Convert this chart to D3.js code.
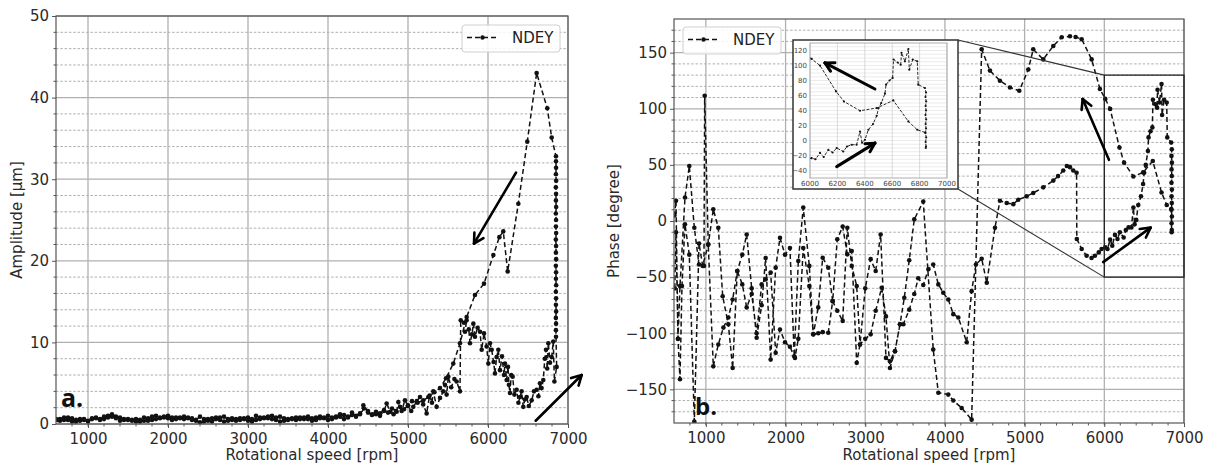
<!DOCTYPE html>
<html>
<head>
<meta charset="utf-8">
<script src="https://cdn.jsdelivr.net/npm/d3@7"></script>
<style>
body { margin: 0; background: #fff; }
svg { font-family: "DejaVu Sans", sans-serif; }
</style>
</head>
<body>
<div id="chart"></div>
<script>
// ---- data: [rpm, value] in time order ----
var ampRunUp = [[600,0.6],[650,0.4],[700,0.5],[750,0.8],[800,0.7],[850,0.3],[900,0.4],[950,0.6],[1000,0.3],[1050,0.7],
  [1100,0.8],[1150,0.6],[1200,0.9],[1250,1.0],[1300,1.2],[1350,0.9],[1400,0.8],[1450,0.6],[1500,0.5],[1550,0.4],
  [1600,0.6],[1650,0.5],[1700,0.8],[1750,0.7],[1800,0.9],[1850,1.0],[1900,0.7],[1950,0.8],[2000,1.0],[2050,0.8],
  [2100,0.8],[2150,0.7],[2200,0.6],[2250,0.8],[2300,0.7],[2350,0.5],[2400,0.9],[2450,0.6],[2500,0.4],[2550,0.3],
  [2600,0.6],[2650,0.8],[2700,0.9],[2750,0.6],[2800,0.7],[2850,0.4],[2900,0.5],[2950,0.7],[3000,0.8],[3050,0.6],
  [3100,1.0],[3150,0.8],[3200,0.7],[3250,0.9],[3300,1.0],[3350,0.8],[3400,0.9],[3450,0.7],[3500,0.6],[3550,0.7],
  [3600,0.5],[3650,0.6],[3700,0.8],[3750,0.9],[3800,0.7],[3850,0.8],[3900,0.9],[3950,0.7],[4000,1.0],[4050,0.8],
  [4100,0.9],[4150,1.2],[4200,1.1],[4250,0.9],[4300,1.4],[4350,1.0],[4400,1.3],[4442,2.3],[4500,1.6],[4550,1.1],
  [4600,1.2],[4650,1.0],[4700,1.6],[4733,2.5],[4780,1.5],[4820,1.2],[4858,1.5],[4879,2.7],[4920,1.6],[4962,2.9],
  [5000,2.2],[5040,1.6],[5066,2.1],[5110,2.8],[5150,3.3],[5190,2.4],[5233,1.3],[5270,3.5],[5300,2.6],[5316,4.0],
  [5358,2.1],[5400,3.2],[5440,4.0],[5462,4.8],[5483,3.6],[5504,5.8],[5540,4.5],[5580,5.5],[5608,5.2],[5650,4.0],
  [5659,12.7],[5700,12.4],[5733,12.7],[5712,11.3],[5760,11.6],[5775,9.9],[5800,11.0],[5817,12.3],[5837,10.7],[5870,11.8],
  [5900,11.3],[5921,9.1],[5950,11.1],[5983,9.5],[6004,7.4],[6025,9.9],[6046,9.1],[6070,7.6],[6087,6.2],[6108,8.2],
  [6129,9.1],[6150,6.6],[6175,8.3],[6200,6.0],[6212,7.4],[6233,5.4],[6250,7.0],[6262,4.8],[6275,3.8],[6290,6.0],
  [6308,5.8],[6330,3.6],[6358,4.2],[6380,2.6],[6400,3.3],[6420,4.0],[6441,2.1],[6460,3.0],[6483,3.3],[6510,2.2],
  [6546,2.9],[6575,4.0],[6608,4.2],[6630,3.4],[6650,5.0],[6670,4.4],[6691,5.4],[6710,8.0],[6725,9.1],[6740,6.8],
  [6754,9.9],[6775,7.5],[6796,8.2],[6816,10.1],[6830,5.2],[6858,7.0],[6850,10.7],
  [6849,11.5],[6851,12.3],[6848,13.0],[6852,13.8],[6849,14.6],[6851,15.4],[6848,16.2],[6852,17.0],[6849,17.8],[6851,18.6],
  [6848,19.4],[6852,20.2],[6849,21.0],[6851,21.8],[6848,22.6],[6852,23.4],[6849,24.2],[6851,25.0],[6848,25.8],[6852,26.6],
  [6849,27.4],[6851,28.2],[6848,29.0],[6852,29.8],[6849,30.6],[6851,31.4],[6850,32.2]];

var ampRunDown = [[6850,32.8],[6796,35.1],[6741,38.7],[6608,43.0],[6491,34.6],[6379,27.0],[6246,18.7],[6191,23.6],[6142,22.9],[6067,20.7],
  [5950,17.2],[5837,15.8],[5733,13.1],[5650,9.9],[5566,7.4],[5475,5.6],[5400,4.4],[5330,3.9],[5254,3.3],[5191,2.9],
  [5120,2.6],[5050,2.8],[5000,2.3],[4950,1.8],[4900,2.1],[4850,1.6],[4800,1.9],[4750,1.4],[4700,1.7],[4650,1.3],
  [4600,1.5],[4550,1.2],[4500,1.4],[4450,1.9],[4400,1.2],[4350,0.9],[4300,1.1],[4250,0.8],[4200,0.6],[4150,0.9],
  [4100,0.8],[4050,0.6],[4000,0.5],[3950,0.8],[3900,0.7],[3850,0.5],[3800,0.4],[3750,0.6],[3700,0.6],[3650,0.8],
  [3600,0.8],[3550,0.6],[3500,0.5],[3450,0.4],[3400,0.3],[3350,0.5],[3300,0.6],[3250,0.7],[3200,0.8],[3150,0.6],
  [3100,0.5],[3050,0.3],[3000,0.4],[2950,0.6],[2900,0.7],[2850,0.6],[2800,0.5],[2750,0.4],[2700,0.3],[2650,0.5],
  [2600,0.8],[2550,0.7],[2500,0.6],[2450,0.3],[2400,0.2],[2350,0.4],[2300,0.5],[2250,0.7],[2200,0.9],[2150,0.8],
  [2100,0.6],[2050,0.5],[2000,0.7],[1950,0.9],[1900,0.8],[1850,0.6],[1800,0.5],[1750,0.4],[1700,0.4],[1650,0.3],
  [1600,0.3],[1550,0.5],[1500,0.6],[1450,0.5],[1400,0.4],[1350,0.7],[1300,0.9],[1250,0.8],[1200,0.6],[1150,0.5],
  [1100,0.7],[1050,0.6],[1000,0.4],[950,0.5],[900,0.6],[850,0.5],[800,0.3],[750,0.5],[700,0.8],[650,0.6],[620,0.5]];

var phaseRunUp = [[610,-60],[625,-10],[650,-105],[675,-141],[700,-58],[738,-3],[792,-30],[855,-178.6],[914,-20],[960,-40],
  [1030,-21],[1093,10.4],[1156,-6],[1211,-67],[1282,-92],[1336,-131],[1394,-44.6],[1457,-56.5],[1512,-77],[1575,-65],
  [1637,-100],[1700,-56.5],[1750,-52],[1813,-46],[1876,-117.5],[1930,-96.7],[1993,-108],[2055,-112],[2118,-122],[2160,-105],
  [2222,-24],[2298,-58],[2348,-101],[2410,-100],[2466,-99],[2536,-99.6],[2591,-71.4],[2649,-80],[2717,-89],[2775,-6],
  [2830,-40],[2893,-58],[2934,-110],[3000,-105],[3068,-101],[3131,-80],[3206,-59.5],[3260,-85],[3310,-131],[3373,-116],
  [3436,-92],[3478,-92],[3552,-79],[3615,-65],[3665,-51],[3728,-57],[3792,-43],[3853,-38.7],[3917,-56.5],[3979,-64],
  [4042,-70],[4105,-83],[4168,-86],[4273,-108],[4335,-62.5],[4389,-38.7],[4461,-33.6],[4525,-55],[4628,-6],[4690,18],
  [4775,16],[4858,15],[4920,19],[5025,22],[5108,25],[5234,30],[5360,36],[5420,40],[5485,45],[5530,49],
  [5569,48],[5610,45],[5652,43],[5655,-16],[5716,-25],[5778,-31],[5840,-33],[5882,-31],[5930,-28],[5966,-25],
  [6012,-23.5],[6040,-25],[6073,-16.6],[6100,-22],[6134,-12.4],[6165,-16],[6195,-10],[6243,-14.7],[6270,-8],[6304,-5.7],
  [6340,-5.7],[6365,12],[6380,-3],[6401,1],[6426,14.3],[6460,22],[6487,33],[6500,43],[6520,50],[6547,62.4],
  [6555,74.5],[6580,80],[6603,83.4],[6610,108],[6640,104],[6662,101],[6668,117],[6693,105.6],[6718,122],[6725,94.5],
  [6750,108],[6783,105.6],[6790,74.5],[6839,70],
  [6847,64],[6843,58],[6848,52],[6844,46],[6847,40],[6843,34],[6848,28],[6844,22],[6847,16],[6843,10],
  [6848,4],[6844,-2],[6847,-8],[6845,-10]];

var phaseRunDown = [[6840,10.7],[6783,14.3],[6718,25.4],[6608,53.5],[6487,43.3],[6365,39.7],[6248,52],[6190,65.5],[6073,99.9],[6012,108.8],
  [5945,117.6],[5841,144],[5716,162],[5640,164],[5569,164.6],[5465,163.7],[5360,156],[5234,144],[5108,153],[5046,135],
  [4933,116],[4816,119],[4690,125],[4565,134],[4461,153],[4335,-177],[4210,-166.6],[4105,-160],[4042,-154.7],[3917,-153],
  [3853,-114.6],[3728,17.3],[3615,1.5],[3552,-35],[3490,-68.4],[3436,-92],[3373,-116],[3310,-125],[3260,-122],[3193,-12],
  [3131,-44.6],[3068,-34],[3000,-60],[2934,-110],[2893,-126.4],[2830,-26.8],[2775,-29.7],[2717,-5],[2649,-16.3],[2591,-71.4],
  [2536,-41.6],[2466,-32.7],[2410,-77],[2348,-101],[2298,-40],[2222,12],[2160,-35.7],[2109,-120.5],[2055,-24],[1993,-30],
  [1930,-15],[1876,-41.6],[1813,-123.5],[1750,-33],[1700,-75],[1637,-104],[1575,-60],[1512,-12],[1457,-30],[1394,-44.6],
  [1336,-70],[1282,-86],[1220,-95],[1156,-110],[1093,-129.5],[1030,-21],[985,111.6],[976,-40],[914,-38.7],[855,-6],
  [792,49],[738,21],[675,-58],[650,-105],[625,18],[605,5]];

// ticks
var speedTicks = [1000, 2000, 3000, 4000, 5000, 6000, 7000];
var ampTicks = [0, 10, 20, 30, 40, 50];
var phaseTicks = [-150, -100, -50, 0, 50, 100, 150];
var insetSpeedTicks = [6000, 6200, 6400, 6600, 6800, 7000];
var insetPhaseTicks = [-40, -20, 0, 20, 40, 60, 80, 100, 120];

// annotation arrows [fromX, fromY, toX, toY] in data units
var ampArrows = [[6350, 30.8, 5825, 22.1], [6596, 0.4, 7171, 6.0]];
var phaseArrows = [[6058, 54.5, 5728, 108.7], [5986, -36.6, 6581, -5.9]];
var insetArrows = [[6474, 68.7, 6109, 103.5], [6195, -34.8, 6474, -3.5]];

var svg = d3.select("#chart").append("svg")
    .attr("width", 1216)
    .attr("height", 468);

// scales
var xA = d3.scaleLinear().domain([600, 7000]).range([56, 568]);
var yA = d3.scaleLinear().domain([0, 50]).range([424, 16]);
var xP = d3.scaleLinear().domain([600, 7000]).range([674, 1184]);
var yP = d3.scaleLinear().domain([-180, 180]).range([423, 19]);
var xI = d3.scaleLinear().domain([6000, 7000]).range([810, 947]);
var yI = d3.scaleLinear().domain([-50, 130]).range([178, 43]);

function drawFrame(x, y, xTicks, yTicks, yMinor, clipId) {
  var g = svg.append("g");
  var x0 = x.range()[0], x1 = x.range()[1], y0 = y.range()[0], y1 = y.range()[1];

  svg.append("clipPath").attr("id", clipId).append("rect")
    .attr("x", x0).attr("y", y1).attr("width", x1 - x0).attr("height", y0 - y1);

  // minor horizontal grid (dashed)
  g.selectAll(null).data(yMinor).enter().append("line")
    .attr("x1", x0).attr("x2", x1)
    .attr("y1", function(d) { return y(d); }).attr("y2", function(d) { return y(d); })
    .style("stroke", "#9a9a9a").style("stroke-width", 0.8).style("stroke-dasharray", "2.5,1.8");

  // major grid
  g.selectAll(null).data(yTicks).enter().append("line")
    .attr("x1", x0).attr("x2", x1)
    .attr("y1", function(d) { return y(d); }).attr("y2", function(d) { return y(d); })
    .style("stroke", "#b0b0b0").style("stroke-width", 1.3);
  g.selectAll(null).data(xTicks).enter().append("line")
    .attr("y1", y0).attr("y2", y1)
    .attr("x1", function(d) { return x(d); }).attr("x2", function(d) { return x(d); })
    .style("stroke", "#b0b0b0").style("stroke-width", 1.3);

  // minor ticks
  var xMinor = d3.range(800, 7000, 200);
  g.selectAll(null).data(xMinor).enter().append("line")
    .attr("x1", function(d) { return x(d); }).attr("x2", function(d) { return x(d); })
    .attr("y1", y0).attr("y2", y0 + 2.5).style("stroke", "#555");
  g.selectAll(null).data(yMinor).enter().append("line")
    .attr("y1", function(d) { return y(d); }).attr("y2", function(d) { return y(d); })
    .attr("x1", x0).attr("x2", x0 - 2.5).style("stroke", "#555");

  var ax = g.append("g")
    .attr("transform", "translate(0," + y0 + ")")
    .call(d3.axisBottom(x).tickValues(xTicks).tickSize(4).tickPadding(5).tickFormat(d3.format("d")));
  var ay = g.append("g")
    .attr("transform", "translate(" + x0 + ",0)")
    .call(d3.axisLeft(y).tickValues(yTicks).tickSize(4).tickPadding(3).tickFormat(d3.format("d")));
  [ax, ay].forEach(function(a) {
    a.select(".domain").remove();
    a.selectAll(".tick line").style("stroke", "#555");
    a.selectAll("text").style("font-size", "15px").style("fill", "#2a2a2a")
      .style("font-family", "DejaVu Sans, sans-serif");
  });
  return g;
}

function drawSpines(x, y) {
  var x0 = x.range()[0], x1 = x.range()[1], y0 = y.range()[0], y1 = y.range()[1];
  svg.append("rect").attr("x", x0).attr("y", y1).attr("width", x1 - x0).attr("height", y0 - y1)
    .style("fill", "none").style("stroke", "#555").style("stroke-width", 1.2);
}

function drawSeries(pts, x, y, clipId, lw, dash, r) {
  var g = svg.append("g").attr("clip-path", "url(#" + clipId + ")");
  var line = d3.line().x(function(d) { return x(d[0]); }).y(function(d) { return y(d[1]); });
  g.append("path").datum(pts).attr("d", line)
    .style("fill", "none").style("stroke", "#111").style("stroke-width", lw)
    .style("stroke-dasharray", dash);
  g.selectAll(null).data(pts).enter().append("circle")
    .attr("cx", function(d) { return x(d[0]); })
    .attr("cy", function(d) { return y(d[1]); })
    .attr("r", r).style("fill", "#111");
}

function drawArrows(list, x, y, lw, head) {
  list.forEach(function(a) {
    var xs = x(a[0]), ys = y(a[1]), xe = x(a[2]), ye = y(a[3]);
    var ang = Math.atan2(ye - ys, xe - xs);
    svg.append("line").attr("x1", xs).attr("y1", ys).attr("x2", xe).attr("y2", ye)
      .style("stroke", "#000").style("stroke-width", lw).style("stroke-linecap", "round");
    [-0.5, 0.5].forEach(function(s) {
      svg.append("line").attr("x1", xe).attr("y1", ye)
        .attr("x2", xe - head * Math.cos(ang + s)).attr("y2", ye - head * Math.sin(ang + s))
        .style("stroke", "#000").style("stroke-width", lw).style("stroke-linecap", "round");
    });
  });
}

function drawLegend(bx, by) {
  var lg = svg.append("g").attr("transform", "translate(" + bx + "," + by + ")");
  lg.append("rect").attr("width", 98).attr("height", 27).attr("rx", 3)
    .style("fill", "#fff").style("fill-opacity", 0.85).style("stroke", "#d0d0d0");
  lg.append("line").attr("x1", 5).attr("x2", 36).attr("y1", 12.5).attr("y2", 12.5)
    .style("stroke", "#111").style("stroke-width", 1.4).style("stroke-dasharray", "5,3");
  lg.append("circle").attr("cx", 20.5).attr("cy", 12.5).attr("r", 2.2).style("fill", "#111");
  lg.append("text").attr("x", 50).attr("y", 18).text("NDEY")
    .style("font-size", "15px").style("fill", "#222");
}

// ---- panel a: amplitude ----
drawFrame(xA, yA, speedTicks, ampTicks, d3.range(2, 50, 2).filter(function(d) { return d % 10; }), "clipA");
drawSeries(ampRunUp.concat(ampRunDown), xA, yA, "clipA", 1.5, "5,3", 2.3);
drawSpines(xA, yA);
drawLegend(462, 25);

svg.append("text").attr("transform", "translate(22,220) rotate(-90)")
  .attr("text-anchor", "middle").text("Amplitude [µm]")
  .style("font-size", "15px").style("fill", "#2a2a2a");
svg.append("text").attr("x", 312).attr("y", 460).attr("text-anchor", "middle")
  .text("Rotational speed [rpm]").style("font-size", "15px").style("fill", "#2a2a2a");
svg.append("text").attr("x", 61).attr("y", 407).text("a.")
  .style("font-family", "Open Sans, sans-serif").style("font-weight", "bold").style("font-size", "25px").style("fill", "#111");
drawArrows(ampArrows, xA, yA, 2.6, 11);

// ---- panel b: phase ----
drawFrame(xP, yP, speedTicks, phaseTicks, d3.range(-170, 180, 10).filter(function(d) { return d % 50; }), "clipP");
drawSeries(phaseRunUp.concat(phaseRunDown), xP, yP, "clipP", 1.5, "5,3", 2.3);
drawSpines(xP, yP);
drawLegend(683, 27);

svg.append("text").attr("transform", "translate(619,221) rotate(-90)")
  .attr("text-anchor", "middle").text("Phase [degree]")
  .style("font-size", "15px").style("fill", "#2a2a2a");
svg.append("text").attr("x", 929).attr("y", 460).attr("text-anchor", "middle")
  .text("Rotational speed [rpm]").style("font-size", "15px").style("fill", "#2a2a2a");
svg.append("text").attr("x", 695).attr("y", 415).text("b.")
  .style("font-family", "Open Sans, sans-serif").style("font-weight", "bold").style("font-size", "24px").style("fill", "#111");

// zoom rectangle + connectors
var zx0 = xP(6000), zx1 = xP(7000), zy0 = yP(130), zy1 = yP(-50);
svg.append("rect").attr("x", zx0).attr("y", zy0).attr("width", zx1 - zx0).attr("height", zy1 - zy0)
  .style("fill", "none").style("stroke", "#222").style("stroke-width", 1.3);
svg.append("line").attr("x1", 958).attr("y1", 40).attr("x2", zx0).attr("y2", zy0)
  .style("stroke", "#333").style("stroke-width", 1.1);
svg.append("line").attr("x1", 958).attr("y1", 189).attr("x2", zx0).attr("y2", zy1)
  .style("stroke", "#333").style("stroke-width", 1.1);

drawArrows(phaseArrows, xP, yP, 2.6, 11);

// ---- inset ----
svg.append("rect").attr("x", 793).attr("y", 40).attr("width", 165).attr("height", 149)
  .style("fill", "#fff").style("stroke", "#333").style("stroke-width", 1.5);
svg.append("clipPath").attr("id", "clipI").append("rect")
  .attr("x", 810).attr("y", 43).attr("width", 137).attr("height", 135);
var gi = svg.append("g");
gi.selectAll(null).data(d3.range(-45, 130, 5)).enter().append("line")
  .attr("x1", 810).attr("x2", 947)
  .attr("y1", function(d) { return yI(d); }).attr("y2", function(d) { return yI(d); })
  .style("stroke", "#ddd").style("stroke-width", 0.6);
gi.selectAll(null).data(insetSpeedTicks).enter().append("line")
  .attr("y1", 43).attr("y2", 178)
  .attr("x1", function(d) { return xI(d); }).attr("x2", function(d) { return xI(d); })
  .style("stroke", "#ccc").style("stroke-width", 0.7);
gi.append("rect").attr("x", 810).attr("y", 43).attr("width", 137).attr("height", 135)
  .style("fill", "none").style("stroke", "#999").style("stroke-width", 0.8);
gi.selectAll(null).data(insetSpeedTicks).enter().append("text")
  .attr("x", function(d) { return xI(d); }).attr("y", 186).attr("text-anchor", "middle")
  .text(function(d) { return d; }).style("font-size", "7px").style("fill", "#444");
gi.selectAll(null).data(insetPhaseTicks).enter().append("text")
  .attr("x", 807).attr("y", function(d) { return yI(d) + 2.5; }).attr("text-anchor", "end")
  .text(function(d) { return d3.format("d")(d); }).style("font-size", "7px").style("fill", "#444");

drawSeries(phaseRunUp.filter(function(d) { return d[0] >= 5900; }), xI, yI, "clipI", 0.9, "3,1.5", 1.1);
drawSeries(phaseRunDown.filter(function(d) { return d[0] >= 5900; }), xI, yI, "clipI", 0.9, "3,1.5", 1.1);
drawArrows(insetArrows, xI, yI, 3, 10);
</script>
</body>
</html>
